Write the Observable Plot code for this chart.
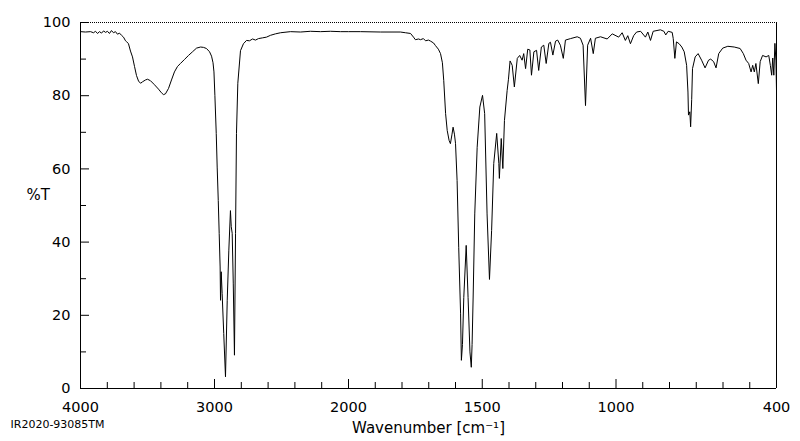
<!DOCTYPE html>
<html><head><meta charset="utf-8">
<script src="https://cdn.jsdelivr.net/npm/d3@7"></script>
<script src="https://cdn.jsdelivr.net/npm/@observablehq/plot@0.6"></script>
<style>html,body{margin:0;padding:0;background:#fff}</style>
</head><body><div id="chart"></div>
<script>
// Wavenumber (cm-1) and %T
const wavenumber = [
4000,3963,3925,3903,3888,3873,3858,3843,3828,3813,3799,3784,3769,3754,3739,3724,3709,3694,3679,3664,3657,3642,3627,3612,3597,3582,3567,3552,3537,3515,3500,3478,3448,3418,3396,3381,3366,3343,3321,3299,3276,3254,3224,3194,3164,3134,3104,3082,3060,3037,3022,3011,3004,2997,2987,2980,2972,2965,2958,2955,2950,2943,2931,2918,2905,2893,2881,2875,2868,2860,2851,2843,2836,2826,2806,2784,2761,2739,2716,2694,2672,2642,2612,2582,2545,2507,2433,2358,2284,2209,2134,2060,
2000,1955,1880,1806,1787,1768,1757,1750,1738,1731,1720,1712,1701,1693,1682,1675,1664,1656,1649,1644,1637,1631,1624,1619,1613,1609,1604,1600,1594,1588,1581,1578,1574,1569,1560,1553,1546,1541,1538,1534,1528,1519,1509,1499,1491,1482,1473,1465,1457,1446,1438,1436,1429,1423,1417,1407,1402,1396,1388,1380,1369,1360,1351,1345,1338,1330,1322,1316,1307,1297,1289,1279,1270,1261,1251,1245,1236,1226,1218,1208,1197,1189,1170,1145,1133,1123,1114,1106,1095,1085,1077,1058,1033,1014,990,977,965,956,946,934,923,908,890,881,871,861,834,821,814,805,790,786,780,774,764,754,745,736,731,729,724,721,717,714,704,693,680,667,654,646,635,626,616,601,582,558,536,524,514,504,495,489,483,477,468,461,452,439,429,423,418,414,410,406,402,400
];
const transmittance = [
97.5,97.4,97.5,97.2,97.6,97.0,97.5,97.1,97.7,97.3,97.6,97.0,97.8,97.2,97.5,96.8,97.1,96.5,96.0,95.0,94.8,94.2,92.2,90.6,88.0,85.5,84.0,83.4,83.8,84.3,84.5,84.1,83.0,81.8,80.8,80.3,80.5,82.0,84.3,86.5,88.0,88.8,89.9,91.0,92.0,93.0,93.3,93.2,92.9,92.0,90.8,89.0,86.5,80.0,69.7,60.5,51.4,42.3,33.2,24.1,31.9,26.0,15.0,3.2,24.1,37.8,48.6,44.2,42.4,28.8,9.1,42.4,69.7,83.4,92.3,94.2,95.1,95.0,95.5,95.2,95.6,95.8,96.0,96.5,96.9,97.2,97.5,97.4,97.6,97.5,97.6,97.5,
97.5,97.5,97.4,97.4,97.2,97.0,96.0,95.3,95.5,95.3,95.6,95.0,95.2,94.9,94.4,93.7,92.7,91.5,89.0,84.2,75.1,70.5,67.8,66.9,69.5,71.4,69.5,67.0,56.8,38.6,20.4,7.7,12.0,24.9,39.1,24.9,10.0,5.8,12.0,25.0,47.7,65.9,76.9,80.1,75.1,47.7,29.8,43.2,61.5,69.7,61.5,57.4,68.3,60.1,73.2,81.4,84.5,89.5,88.3,82.4,90.2,91.0,89.7,91.5,87.4,92.7,92.5,85.6,92.0,92.4,86.9,93.3,93.8,88.8,94.3,94.6,91.1,94.9,95.2,93.8,90.2,95.2,95.6,96.1,95.7,93.8,77.3,93.8,95.7,91.5,95.7,96.1,95.5,96.9,96.0,97.2,95.1,96.4,94.2,96.4,97.4,97.6,96.0,97.4,95.1,97.6,98.0,97.6,96.6,97.6,97.3,95.6,90.2,94.7,94.2,93.3,92.0,88.3,81.0,74.7,75.6,71.5,79.0,87.4,90.6,91.5,89.7,87.6,89.7,90.0,89.3,87.6,91.5,93.0,93.5,93.3,92.9,91.5,89.7,88.8,86.5,88.3,86.5,88.8,83.3,89.3,91.0,90.6,91.0,88.3,85.6,90.3,85.6,94.3,89.5,81.5
];
const xMajorTicks = [4000, 3000, 2000, 1500, 1000, 400];
const xMinorTicks = [3800, 3600, 3400, 3200, 2800, 2600, 2400, 2200, 1900, 1800, 1700, 1600, 1400, 1300, 1200, 1100, 900, 800, 700, 600, 500];
const yMajorTicks = [0, 20, 40, 60, 80, 100];
const yMinorTicks = [10, 30, 50, 70, 90];
const yLabel = "%T";
const xLabel = "Wavenumber [cm\u207B\u00B9]";
const caption = "IR2020-93085TM";

const data = wavenumber.map((w, i) => ({w, t: transmittance[i]}));

const chart = Plot.plot({
  width: 800, height: 441,
  marginLeft: 80, marginRight: 24, marginTop: 22, marginBottom: 53,
  style: {fontFamily: "DejaVu Sans", fontSize: "14.5px", background: "#fff", color: "#000", overflow: "visible"},
  x: {type: "linear", domain: [4000, 2000, 400], range: [80, 348, 776]},
  y: {domain: [0, 100]},
  marks: [
    Plot.ruleY([100], {stroke: "#000", strokeWidth: 1, strokeDasharray: "1,1"}),
    Plot.ruleX([400], {stroke: "#000", strokeWidth: 1}),
    Plot.ruleX([4000], {stroke: "#000", strokeWidth: 1}),
    Plot.ruleY([0], {stroke: "#000", strokeWidth: 1}),
    Plot.axisX({ticks: xMajorTicks, tickSize: -9, fill: "none", label: null, stroke: "#000"}),
    Plot.axisX({ticks: xMinorTicks, tickSize: -6, fill: "none", label: null, stroke: "#000"}),
    Plot.axisX({ticks: xMajorTicks, tickSize: 0, tickPadding: 13, tickFormat: "d", label: null, fill: "#000"}),
    Plot.axisY({ticks: yMajorTicks, tickSize: -9, fill: "none", label: null, stroke: "#000"}),
    Plot.axisY({ticks: yMinorTicks, tickSize: -6, fill: "none", label: null, stroke: "#000"}),
    Plot.axisY({ticks: yMajorTicks, tickSize: 0, tickPadding: 10, tickFormat: "d", label: null, fill: "#000"}),
    Plot.line(data, {x: "w", y: "t", stroke: "#000", strokeWidth: 1}),
    Plot.text([yLabel], {text: d => d, frameAnchor: "left", dx: -54, dy: -10, textAnchor: "start", fontSize: 15, fill: "#000"}),
    Plot.text([xLabel], {text: d => d, frameAnchor: "bottom", dy: 44, fontSize: 15, fill: "#000"}),
    Plot.text([caption], {text: d => d, frameAnchor: "bottom-left", dx: -70, dy: 39, textAnchor: "start", fontSize: 11, fill: "#000"})
  ]
});
document.getElementById("chart").appendChild(chart);
</script>
</body></html>
